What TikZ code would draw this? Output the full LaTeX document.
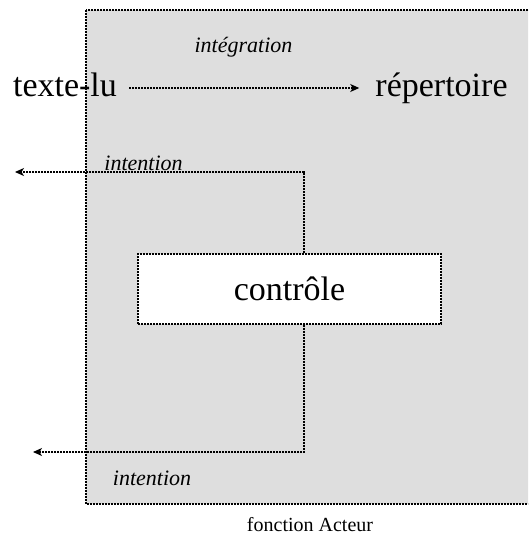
\documentclass[tikz,border=0pt]{standalone}
\usepackage{fontspec}
\setmainfont{Liberation Serif}
\usetikzlibrary{arrows.meta}
\definecolor{acteurgray}{RGB}{222,222,222}
\tikzset{
  dotline/.style={line width=1.2pt, dash pattern=on 2pt off 1pt},
  flow/.style={dotline, -{Stealth[length=9pt,width=8pt,inset=2.5pt]}},
  big/.style={font=\fontsize{34}{40}\selectfont, text height=23pt, text depth=7pt, inner xsep=12pt},
  lbl/.style={font=\fontsize{22}{26}\selectfont\itshape},
}
\begin{document}
\begin{tikzpicture}[x=1pt, y=-1pt]
    \useasboundingbox (0,0) rectangle (528,538);
    \clip (0,0) rectangle (528,538);
    % the Acteur frame
    \draw[dotline, fill=acteurgray] (86,10) rectangle (545,504);

    \node (texte) [big, anchor=base] at (65,96) {texte-lu};
    \node (repertoire) [big, anchor=base] at (441.5,96) {répertoire};
    \node (integration) [lbl] at (243.5,47) {intégration};
    \node (controle) [big, draw, dotline, fill=white, minimum width=303pt, minimum height=70pt, text depth=0pt] at (289.5,289) {contrôle};
    \coordinate (outup) at (15,172);
    \coordinate (outdown) at (33,452);
    \node (intentionup) [lbl, anchor=base] at (143.5,170) {intention};
    \node (intentiondown) [lbl, anchor=base] at (152,485) {intention};
    \node (acteur) [font=\fontsize{20}{24}\selectfont] at (310,525) {fonction Acteur};

    \draw[flow, shorten >=4pt] (texte) -- (repertoire);
    \draw[flow] ([xshift=14.5pt]controle.north) |- (outup);
    \draw[flow] ([xshift=14.5pt]controle.south) |- (outdown);
\end{tikzpicture}
\end{document}
